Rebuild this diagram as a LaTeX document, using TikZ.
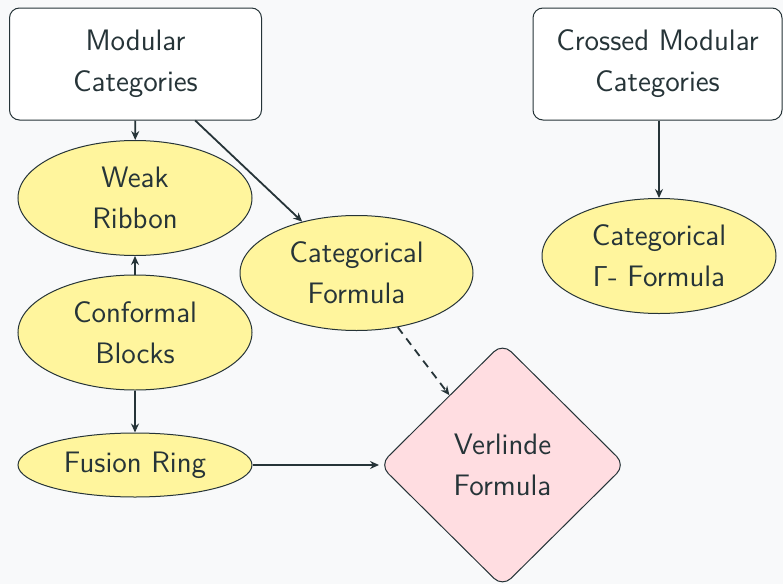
\documentclass[tikz,border=0pt]{standalone}
\usetikzlibrary{shapes.geometric,arrows.meta}
\definecolor{bgc}{HTML}{F8F9FA}
\definecolor{ink}{HTML}{263438}
\definecolor{yel}{HTML}{FFF59D}
\definecolor{pnk}{HTML}{FFDDE1}
\tikzset{
  base/.style={draw=ink, line width=0.5pt, text=ink, align=center, inner sep=0pt,
    font=\sffamily\fontsize{14.8}{20.5}\selectfont},
  boxnode/.style={base, rectangle, rounded corners=5pt, fill=white, minimum width=126pt, minimum height=56pt},
  ellnode/.style={base, ellipse, fill=yel, minimum width=117pt, minimum height=57.5pt},
  dianode/.style={base, diamond, fill=pnk, rounded corners=6pt, minimum width=123pt, minimum height=122pt},
  conn/.style={draw=ink, line width=0.9pt, -{Stealth[length=4.5pt,width=4pt,inset=1.5pt]}},
}
\begin{document}
\begin{tikzpicture}[x=0.5pt,y=-0.5pt]
\fill[bgc] (0,0) rectangle (783,584);
\useasboundingbox (0,0) rectangle (783,584);
\node[boxnode] (mod) at (135.5,64) {Modular\\Categories};
\node[boxnode, minimum width=124.5pt] (cmod) at (657.5,64) {Crossed Modular\\Categories};
\node[ellnode] (weak) at (135,198) {Weak\\Ribbon};
\node[ellnode, minimum width=116.5pt] (catf) at (356.5,273) {Categorical\\Formula};
\node[ellnode] (conf) at (135,332.5) {Conformal\\Blocks};
\node[ellnode, minimum height=32pt] (fus) at (135,465) {Fusion Ring};
\node[ellnode] (catg) at (659,256) {Categorical\\$\mathsf{\Gamma}$- Formula};
\node[dianode] (ver) at (502.5,465) {Verlinde\\Formula};
\draw[conn] (mod) -- (weak);
\draw[conn] (mod) -- (catf);
\draw[conn] (conf) -- (weak);
\draw[conn, dash pattern=on 4pt off 3pt] (catf) -- (ver);
\draw[conn] (conf) -- (fus);
\draw[conn] (fus) -- (ver);
\draw[conn] (cmod.south -| catg.north) -- (catg);
\end{tikzpicture}
\end{document}
